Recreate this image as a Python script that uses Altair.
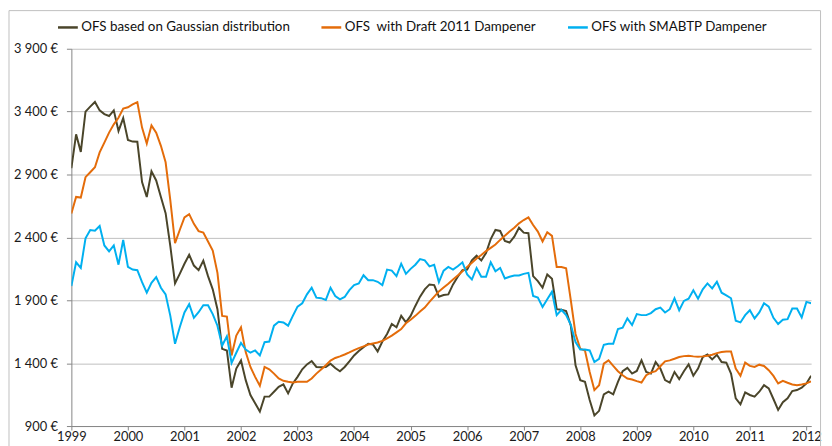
import altair as alt
import pandas as pd

series_names = ["OFS based on Gaussian distribution",
                "OFS\u00a0 with Draft 2011 Dampener",
                "OFS with SMABTP Dampener"]
colors = ["#4A452A", "#E46C0A", "#00B0F0"]

start_year = 1999
year_ticks = list(range(1999, 2013))
y_ticks = [900, 1400, 1900, 2400, 2900, 3400, 3900]

gaussian = [2950, 3220, 3080, 3400, 3440, 3477, 3410, 3380, 3365, 3410, 3246, 3349,
            3175, 3162, 3160, 2840, 2721, 2926, 2853, 2721, 2593, 2330, 2034, 2110,
            2190, 2262, 2176, 2140, 2215, 2092, 1987, 1829, 1514, 1501, 1205, 1357,
            1422, 1265, 1147, 1081, 1016, 1134, 1134, 1173, 1212, 1231, 1160, 1239,
            1291, 1351, 1390, 1417, 1370, 1368, 1370, 1396, 1362, 1336, 1370, 1414,
            1461, 1496, 1527, 1554, 1549, 1493, 1572, 1632, 1711, 1685, 1776, 1724,
            1776, 1855, 1929, 1987, 2026, 2021, 1929, 1942, 1947, 2026, 2087, 2139,
            2144, 2217, 2254, 2217, 2276, 2386, 2459, 2451, 2372, 2359, 2406, 2477,
            2438, 2433, 2092, 2052, 2000, 2105, 2071, 1829, 1824, 1814, 1698, 1383,
            1265, 1252, 1107, 984, 1021, 1152, 1173, 1152, 1252, 1336, 1362, 1317,
            1338, 1422, 1330, 1317, 1409, 1357, 1265, 1246, 1330, 1273, 1336, 1390,
            1300, 1357, 1449, 1469, 1430, 1467, 1409, 1404, 1317, 1120, 1073, 1168,
            1147, 1134, 1173, 1225, 1199, 1115, 1028, 1089, 1120, 1178, 1186, 1205,
            1239, 1300]

draft2011 = [2590, 2722, 2717, 2879, 2918, 2958, 3076, 3154, 3233, 3299, 3351, 3425,
             3435, 3457, 3475, 3273, 3147, 3291, 3233, 3128, 2997, 2695, 2354, 2459,
             2559, 2585, 2508, 2450, 2438, 2367, 2296, 2118, 1776, 1771, 1461, 1619,
             1685, 1488, 1370, 1291, 1220, 1370, 1351, 1317, 1278, 1260, 1252, 1246,
             1252, 1252, 1252, 1278, 1317, 1350, 1383, 1420, 1441, 1454, 1469, 1485,
             1504, 1520, 1533, 1548, 1556, 1564, 1577, 1598, 1619, 1645, 1671, 1717,
             1745, 1776, 1811, 1842, 1887, 1929, 1971, 2001, 2031, 2065, 2097, 2131,
             2165, 2199, 2233, 2260, 2291, 2317, 2343, 2380, 2414, 2446, 2477, 2512,
             2538, 2559, 2498, 2446, 2367, 2441, 2412, 2165, 2165, 2155, 1900, 1632,
             1514, 1501, 1330, 1186, 1225, 1396, 1422, 1378, 1336, 1304, 1278, 1270,
             1257, 1246, 1304, 1325, 1336, 1375, 1414, 1422, 1435, 1449, 1456, 1459,
             1454, 1451, 1454, 1459, 1467, 1480, 1488, 1493, 1493, 1357, 1299, 1404,
             1378, 1370, 1388, 1378, 1344, 1299, 1239, 1260, 1244, 1231, 1225, 1231,
             1239, 1255]

smabtp = [2013, 2202, 2157, 2393, 2459, 2454, 2491, 2336, 2288, 2336, 2183, 2380,
          2165, 2144, 2139, 2044, 1960, 2039, 2084, 2000, 1947, 1776, 1554, 1685,
          1803, 1869, 1760, 1805, 1861, 1861, 1790, 1698, 1540, 1614, 1401, 1483,
          1561, 1509, 1483, 1501, 1461, 1567, 1572, 1698, 1729, 1724, 1698, 1776,
          1850, 1876, 1947, 2000, 1921, 1917, 1903, 2000, 1934, 1908, 1926, 1981,
          2021, 2034, 2099, 2060, 2060, 2047, 2021, 2144, 2136, 2092, 2191, 2110,
          2150, 2183, 2228, 2217, 2170, 2183, 2044, 2135, 2165, 2144, 2170, 2202,
          2105, 2065, 2157, 2087, 2087, 2202, 2131, 2157, 2073, 2087, 2097, 2097,
          2110, 2118, 1934, 1921, 1847, 1908, 1968, 1782, 1824, 1782, 1705, 1567,
          1509, 1509, 1501, 1409, 1435, 1546, 1554, 1554, 1672, 1682, 1756, 1703,
          1790, 1782, 1782, 1798, 1829, 1842, 1803, 1829, 1916, 1821, 1895, 1913,
          1979, 1913, 1987, 2034, 1995, 2047, 1960, 1939, 1916, 1737, 1724, 1782,
          1821, 1756, 1803, 1876, 1850, 1761, 1711, 1745, 1750, 1834, 1834, 1764,
          1887, 1876]

rows = []
for order, (name, vals) in enumerate(zip(series_names, [gaussian, draft2011, smabtp])):
    for m, v in enumerate(vals):
        rows.append({"t": start_year + m / 12.0, "v": v, "s": name, "o": order})
df = pd.DataFrame(rows)
x_end = start_year + (len(gaussian) - 1) / 12.0

lines = alt.Chart(df).mark_line(strokeWidth=2, clip=True).encode(
    x=alt.X("t:Q",
            scale=alt.Scale(domain=[start_year, x_end], nice=False, zero=False),
            axis=alt.Axis(values=year_ticks, format="d", title=None, grid=False,
                          tickSize=4, labelPadding=1, labelFlush=False)),
    y=alt.Y("v:Q",
            scale=alt.Scale(domain=[900, 3900], nice=False, zero=False),
            axis=alt.Axis(values=y_ticks, title=None, grid=True, tickSize=5,
                          labelPadding=9,
                          labelExpr="replace(format(datum.value, ','), ',', ' ') + ' €'")),
    color=alt.Color("s:N",
                    scale=alt.Scale(domain=series_names, range=colors),
                    legend=alt.Legend(title=None, orient="none", direction="horizontal",
                                      legendX=-15, legendY=-33, symbolType="stroke",
                                      symbolSize=400, symbolStrokeWidth=2.5,
                                      labelFont="Lato", labelFontSize=13.5,
                                      labelColor="#111111", labelOffset=2,
                                      labelLimit=400,
                                      columnPadding=26, padding=0)),
    order=alt.Order("o:Q"),
)

frame = alt.Chart(pd.DataFrame({"a": [0]})).mark_rect(
    fill=None, stroke="#BFBFBF", strokeWidth=1, clip=False
).encode(
    x=alt.value(-63), x2=alt.value(756.5), y=alt.value(-38.5), y2=alt.value(420)
)

chart = alt.layer(frame, lines).properties(
    width=747, height=381,
    padding={"left": 64, "top": 39, "right": 13, "bottom": 18},
    autosize="none",
).configure_view(stroke=None).configure_axis(
    domainColor="#868686", tickColor="#868686", gridColor="#BFBFBF",
    labelFont="Lato", labelFontSize=13, labelColor="#1a1a1a", domainWidth=1,
)

chart.save("out.html", embed_options={"renderer": "svg", "actions": False})
